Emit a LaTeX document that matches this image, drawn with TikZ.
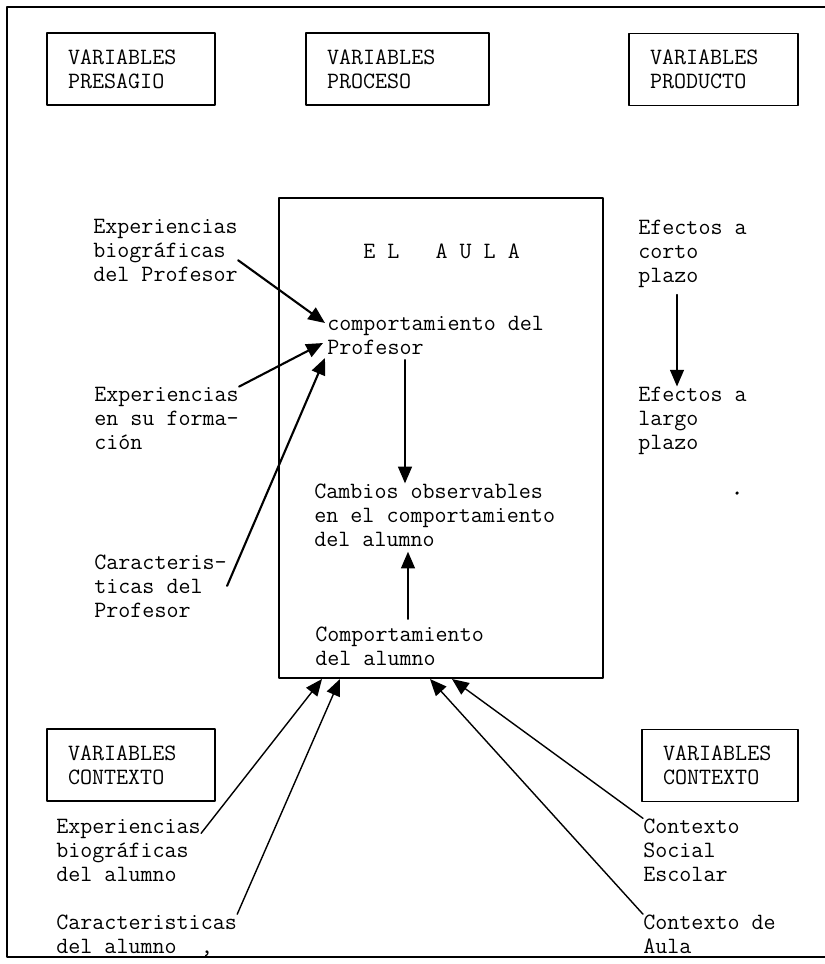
\documentclass[tikz,border=0pt]{standalone}
\usepackage{fontspec}
\usepackage{tikz}
\usetikzlibrary{arrows.meta}

\tikzset{
  varbox/.style={draw,line width=1.1pt,inner xsep=0.42cm,inner ysep=0pt,minimum height=1.44cm,align=left},
  txt/.style={anchor=base west,inner sep=0pt,align=left},
  arr/.style={line width=1.2pt,-{Triangle[length=9.5pt,width=8pt]}},
  thinarr/.style={line width=0.7pt,-{Triangle[length=9.5pt,width=8pt]}}
}

\begin{document}
\begin{tikzpicture}[line cap=round,line join=round,x=0.02cm,y=-0.02cm,
    font={\fontsize{13.3pt}{13.6pt}\selectfont\ttfamily}]
		\useasboundingbox (0,0) rectangle (825,964);
		% marco
		\draw [line width=0.85pt] (825,7)-- (7,7)-- (7,957)-- (825,957);
		% cajas de variables
		\node[varbox,text width=2.52cm] (presagio) at (131,69) {VARIABLES\\PRESAGIO};
		\node[varbox,text width=2.82cm] (proceso) at (397.5,69) {VARIABLES\\PROCESO};
		\node[varbox,text width=2.54cm] (producto) at (713.5,69.5) {VARIABLES\\PRODUCTO};
		\node[varbox,text width=2.52cm] (contextoA) at (131,765) {VARIABLES\\CONTEXTO};
		\node[varbox,text width=2.28cm] (contextoB) at (720,765.5) {VARIABLES\\CONTEXTO};
		% el aula
		\node[draw,line width=1.1pt,minimum width=6.48cm,minimum height=9.6cm,inner sep=0pt] (aula) at (441,438) {};
		\node[txt] (titulo) at (363,258) {E L\ \ \ A U L A};
		\node[txt] (compprof) at (327,354) {comportamiento del\\Profesor};
		\node[txt] (cambios) at (314,546) {Cambios observables\\en el comportamiento\\del alumno};
		\node[txt] (compalu) at (315,665) {Comportamiento\\del alumno};
		% presagio
		\node[txt] (expprof) at (93,281) {Experiencias\\biográficas\\del Profesor};
		\node[txt] (expform) at (94,449) {Experiencias\\en su forma-\\ción};
		\node[txt] (carprof) at (94,617) {Caracteris-\\ticas del\\Profesor};
		% producto
		\node[txt] (efcorto) at (638,282) {Efectos a\\corto\\plazo};
		\node[txt] (eflargo) at (638,449) {Efectos a\\largo\\plazo};
		\fill (737,493) circle (1pt);
		% contexto
		\node[txt] (expalu) at (56,881) {Experiencias\\biográficas\\del alumno};
		\node[txt] (caralu) at (56,953) {Caracteristicas\\del alumno\ \ ,};
		\node[txt] (ctxsoc) at (643,881) {Contexto\\Social\\Escolar};
		\node[txt] (ctxaula) at (643,953) {Contexto de\\Aula};
		% puntos de llegada
		\coordinate (p1) at (325,323);
		\coordinate (p2) at (323,343);
		\coordinate (p3) at (325,358);
		\coordinate (b1) at (322,679);
		\coordinate (b2) at (340,679);
		\coordinate (b3) at (430,679);
		\coordinate (b4) at (452,679);
		\coordinate (vx1) at (405,0);
		\coordinate (vx2) at (408,0);
		\coordinate (vx3) at (677,0);
		% flechas
		\draw [arr] (expprof.-8)-- (p1);
		\draw [arr] (expform.north east)-- (p2);
		\draw [arr] (carprof.east)-- (p3);
		\draw [thinarr,shorten <=3pt] (compprof.south -| vx1)-- (cambios.north -| vx1);
		\draw [thinarr,shorten <=4pt,shorten >=3pt] (compalu.north -| vx2)-- (cambios.south -| vx2);
		\draw [thinarr,shorten <=4pt] (efcorto.south -| vx3)-- (eflargo.north -| vx3);
		\draw [arr,line width=0.8pt] (expalu.13)-- (b1);
		\draw [arr,line width=0.8pt] (caralu.north east)-- (b2);
		\draw [arr,line width=0.8pt] (ctxaula.north west)-- (b3);
		\draw [arr,line width=0.8pt] (ctxsoc.north west)-- (b4);
	\end{tikzpicture}
\end{document}
